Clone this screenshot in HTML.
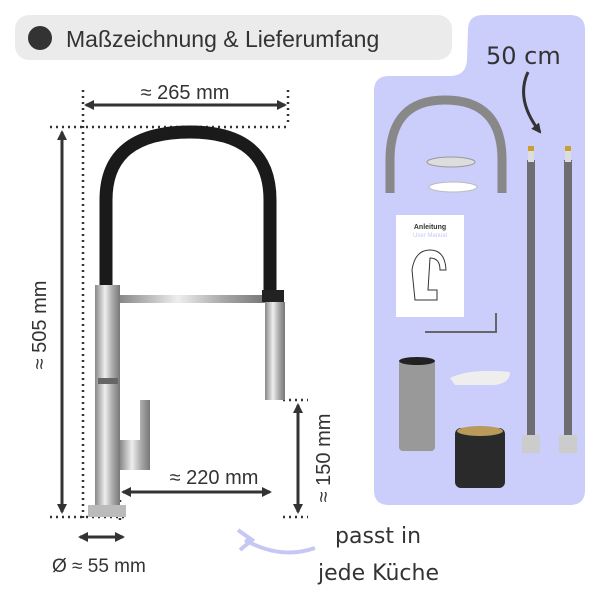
<!DOCTYPE html><html><head><style>
body{margin:0;width:600px;height:600px;background:#fff;overflow:hidden;font-family:"Liberation Sans",sans-serif}
</style></head><body>
<svg width="600" height="600" viewBox="0 0 600 600" xmlns="http://www.w3.org/2000/svg" font-family="Liberation Sans, sans-serif">
<defs>
<marker id="a" markerWidth="10" markerHeight="10" refX="8" refY="5" orient="auto-start-reverse" markerUnits="userSpaceOnUse"><path d="M0,0 L10,5 L0,10 z" fill="#333"/></marker>
<linearGradient id="chr" x1="0" x2="1"><stop offset="0" stop-color="#888"/><stop offset=".4" stop-color="#eee"/><stop offset=".7" stop-color="#aaa"/><stop offset="1" stop-color="#777"/></linearGradient>
</defs>
<rect x="15" y="15" width="437" height="45" rx="14" fill="#ebebeb"/>
<circle cx="40" cy="38" r="12" fill="#333"/>
<text x="66" y="47" font-size="23" fill="#333">Maßzeichnung &amp; Lieferumfang</text>
<path d="M468,30 Q468,15 483,15 L570,15 Q585,15 585,30 L585,490 Q585,505 570,505 L389,505 Q374,505 374,490 L374,91 Q374,76 389,76 L450,76 Q466,76 467,60 Z" fill="#cbcdfb"/>
<text x="486" y="64" font-size="24" fill="#333" font-family="DejaVu Sans">50 cm</text>
<path d="M528,72 Q515,100 540,132" fill="none" stroke="#333" stroke-width="3" marker-end="url(#a)"/>
<path d="M390,193 L390,160 Q390,100 445,100 Q502,100 502,160 L502,193" fill="none" stroke="#888" stroke-width="9"/>
<ellipse cx="451" cy="162" rx="24" ry="5" fill="#ddd" stroke="#999"/>
<ellipse cx="453" cy="187" rx="24" ry="5" fill="#fff" stroke="#bbb"/>
<rect x="396" y="215" width="68" height="102" fill="#fff"/>
<text x="430" y="229" font-size="7" text-anchor="middle" font-weight="bold" fill="#333">Anleitung</text>
<text x="430" y="237" font-size="6" text-anchor="middle" fill="#c5c8f5">User Manual</text>
<path d="M425,300 L415,300 L412,270 Q415,250 430,250 Q445,250 446,270 L440,270 Q440,258 430,258 L428,290 L437,290 L437,300 Z" fill="none" stroke="#333"/>
<path d="M425,332 L496,332 L496,313" fill="none" stroke="#666" stroke-width="2"/>
<rect x="399" y="359" width="36" height="92" rx="4" fill="#999"/>
<ellipse cx="417" cy="361" rx="18" ry="4" fill="#222"/>
<path d="M450,378 Q470,368 510,372 Q510,383 495,385 L455,385 Z" fill="#eee"/>
<rect x="455" y="428" width="50" height="60" rx="6" fill="#2a2a2a"/>
<ellipse cx="480" cy="431" rx="23" ry="5" fill="#b99a5a"/>
<rect x="527" y="160" width="8" height="275" fill="#6e6e72"/>
<rect x="528" y="146" width="6" height="16" fill="#ddd"/><rect x="528" y="146" width="6" height="5" fill="#c9a030"/>
<rect x="522" y="435" width="18" height="18" fill="#ccc"/>
<rect x="564" y="160" width="8" height="275" fill="#6e6e72"/>
<rect x="565" y="146" width="6" height="16" fill="#ddd"/><rect x="565" y="146" width="6" height="5" fill="#c9a030"/>
<rect x="559" y="435" width="18" height="18" fill="#ccc"/>
<g stroke="#333" stroke-width="2.5" stroke-dasharray="2 4" fill="none">
<line x1="50" y1="127" x2="290" y2="127"/>
<line x1="83" y1="90" x2="83" y2="520"/>
<line x1="288" y1="90" x2="288" y2="125"/>
<line x1="50" y1="517" x2="125" y2="517"/>
<line x1="120" y1="500" x2="120" y2="520"/>
<line x1="283" y1="400" x2="308" y2="400"/>
<line x1="283" y1="517" x2="308" y2="517"/>
</g>
<g stroke="#333" stroke-width="3">
<line x1="86" y1="105" x2="285" y2="105" marker-start="url(#a)" marker-end="url(#a)"/>
<line x1="62" y1="132" x2="62" y2="512" marker-start="url(#a)" marker-end="url(#a)"/>
<line x1="298" y1="405" x2="298" y2="512" marker-start="url(#a)" marker-end="url(#a)"/>
<line x1="123" y1="492" x2="270" y2="492" marker-start="url(#a)" marker-end="url(#a)"/>
<line x1="80" y1="537" x2="123" y2="537" marker-start="url(#a)" marker-end="url(#a)"/>
</g>
<text x="185" y="99" font-size="20" text-anchor="middle" fill="#333">≈ 265 mm</text>
<text transform="translate(46 325) rotate(-90)" font-size="20" text-anchor="middle" fill="#333">≈ 505 mm</text>
<text transform="translate(330 458) rotate(-90)" font-size="20" text-anchor="middle" fill="#333">≈ 150 mm</text>
<text x="214" y="484" font-size="20" text-anchor="middle" fill="#333">≈ 220 mm</text>
<text x="52" y="572" font-size="19" fill="#333">Ø ≈ 55 mm</text>
<path d="M106,290 L106,200 Q106,132 190,132 Q270,132 270,200 L270,292" fill="none" stroke="#1a1a1a" stroke-width="13"/>
<rect x="95" y="285" width="25" height="225" fill="url(#chr)"/>
<rect x="98" y="378" width="20" height="6" fill="#666"/>
<rect x="120" y="295" width="145" height="8" fill="url(#chr)"/>
<rect x="262" y="290" width="22" height="12" fill="#222"/>
<rect x="265" y="302" width="20" height="98" fill="url(#chr)"/>
<path d="M120,440 L140,440 L140,400 L150,400 L150,470 L120,470 Z" fill="url(#chr)"/>
<rect x="88" y="505" width="38" height="12" fill="#bbb"/>
<text x="335" y="543" font-size="22" fill="#333" font-family="DejaVu Sans">passt in</text>
<text x="318" y="580" font-size="22" fill="#333" font-family="DejaVu Sans">jede Küche</text>
<path d="M315,548 Q280,560 245,540" fill="none" stroke="#c5c8f5" stroke-width="4"/>
<path d="M238,530 L252,540 L240,550" fill="none" stroke="#c5c8f5" stroke-width="4"/>
</svg>
</body></html>
